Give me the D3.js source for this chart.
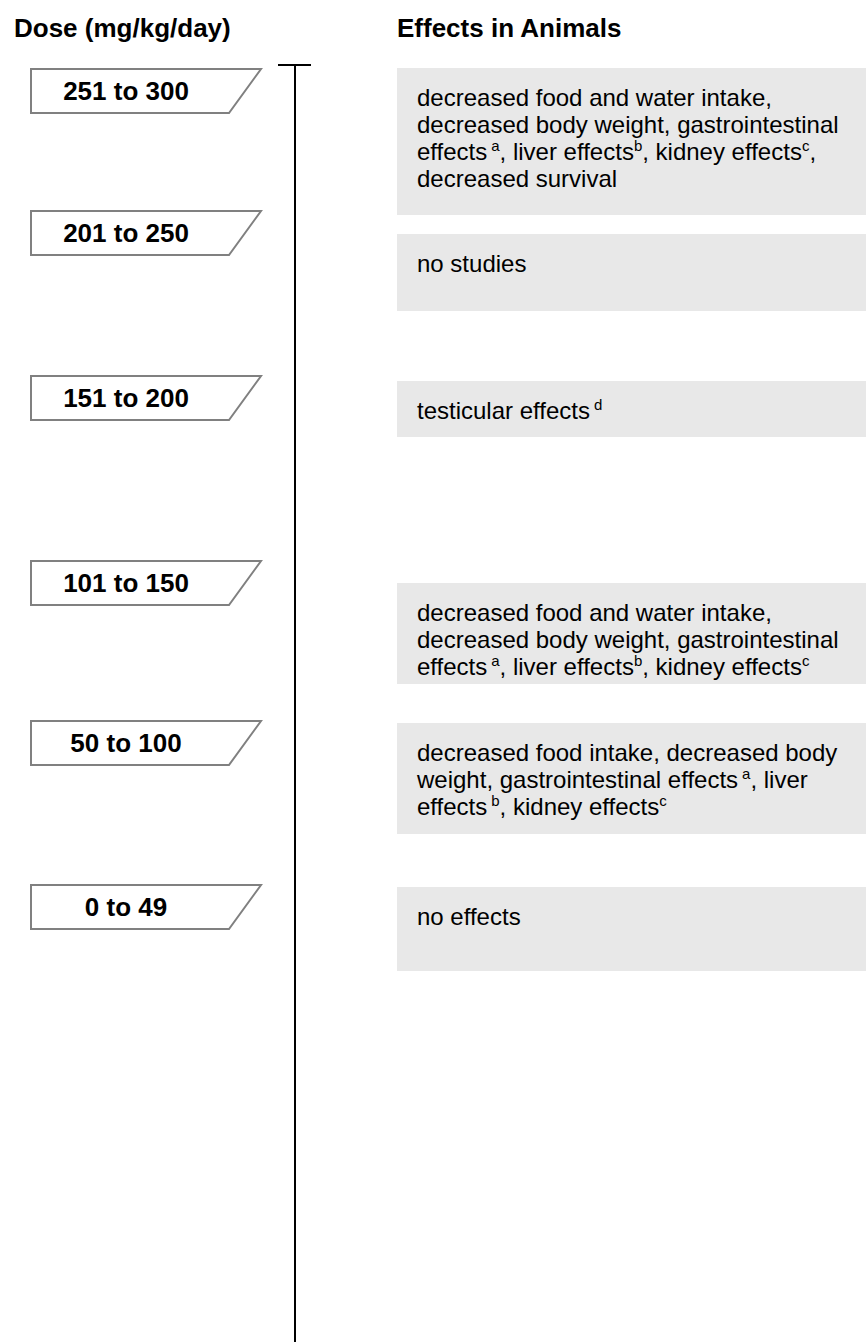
<!DOCTYPE html>
<html>
<head>
<meta charset="utf-8">
<script src="https://cdn.jsdelivr.net/npm/d3@7"></script>
<style>
  body { margin: 0; background: #fff; }
  svg text { font-family: "Liberation Sans", Arial, sans-serif; fill: #000; }
</style>
</head>
<body>
<div id="chart"></div>
<script>
// ---- data ----
const headers = ["Dose (mg/kg/day)", "Effects in Animals"];

const doseLabels = ["251 to 300", "201 to 250", "151 to 200", "101 to 150", "50 to 100", "0 to 49"];

// text in {} is a superscript footnote mark; a leading space in it means a small gap
const effectLines = [
  ["decreased food and water intake,", "decreased body weight, gastrointestinal", "effects{ a}, liver effects{b}, kidney effects{c},", "decreased survival"],
  ["no studies"],
  ["testicular effects{ d}"],
  ["decreased food and water intake,", "decreased body weight, gastrointestinal", "effects{ a}, liver effects{b}, kidney effects{c}"],
  ["decreased food intake, decreased body", "weight, gastrointestinal effects{ a}, liver", "effects{ b}, kidney effects{c}"],
  ["no effects"]
];

// ---- layout (page positions, not data) ----
const W = 866, H = 1342;
const labelTops = [69, 211, 376, 561, 721, 885];
const boxTops = [68, 234, 381, 583, 723, 887];
const boxHeights = [147, 77, 56, 101, 111, 84];

const svg = d3.select("#chart").append("svg")
  .attr("width", W)
  .attr("height", H);

const labelY = d3.scaleOrdinal().domain(doseLabels).range(labelTops);
const boxY = d3.scaleOrdinal().domain(doseLabels).range(boxTops);
const boxH = d3.scaleOrdinal().domain(doseLabels).range(boxHeights);

// column headers
svg.selectAll(".header")
  .data(headers)
  .enter()
  .append("text")
  .attr("class", "header")
  .attr("x", (d, i) => i === 0 ? 14 : 397)
  .attr("y", 37)
  .style("font-size", "26px")
  .style("font-weight", "bold")
  .text(d => d);

// vertical dose axis with a cap at the top
const axisX = 295, axisTop = 65;
svg.append("line")
  .attr("x1", axisX).attr("x2", axisX)
  .attr("y1", axisTop).attr("y2", H)
  .attr("stroke", "#000")
  .attr("stroke-width", 2);
svg.append("line")
  .attr("x1", 278).attr("x2", 311)
  .attr("y1", axisTop).attr("y2", axisTop)
  .attr("stroke", "#000")
  .attr("stroke-width", 2);

// dose label tags
const tagH = 44, tagL = 31, tagR = 261, slant = 32;
const tags = svg.selectAll(".tag")
  .data(doseLabels)
  .enter()
  .append("g")
  .attr("class", "tag")
  .attr("transform", d => `translate(0, ${labelY(d)})`);

tags.append("path")
  .attr("d", `M${tagL},0 L${tagR},0 L${tagR - slant},${tagH} L${tagL},${tagH} Z`)
  .attr("fill", "#fff")
  .attr("stroke", "#808080")
  .attr("stroke-width", 2);

tags.append("text")
  .attr("x", 126)
  .attr("y", 31)
  .attr("text-anchor", "middle")
  .style("font-size", "26px")
  .style("font-weight", "bold")
  .text(d => d);

// effects boxes
const boxX = 397, textX = 417, lineGap = 27, firstBase = 38, supRise = 9;
const rows = svg.selectAll(".effect")
  .data(doseLabels.map((d, i) => ({ dose: d, lines: effectLines[i] })))
  .enter()
  .append("g")
  .attr("class", "effect")
  .attr("transform", d => `translate(0, ${boxY(d.dose)})`);

rows.append("rect")
  .attr("x", boxX)
  .attr("y", 0)
  .attr("width", W - boxX)
  .attr("height", d => boxH(d.dose))
  .attr("fill", "#e8e8e8");

rows.each(function(d) {
  let g = d3.select(this);
  d.lines.forEach((line, li) => {
    let t = g.append("text")
      .attr("x", textX)
      .attr("y", firstBase + li * lineGap)
      .style("font-size", "24px");
    let raised = false;
    // split into normal and superscript parts
    line.split(/(\{[^}]*\})/).filter(s => s.length).forEach(part => {
      if (part[0] === "{") {
        let mark = part.slice(1, -1);
        t.append("tspan")
          .attr("dy", -supRise)
          .attr("dx", mark[0] === " " ? 4 : 0)
          .style("font-size", "15px")
          .text(mark.trim());
        raised = true;
      } else {
        t.append("tspan")
          .attr("dy", raised ? supRise : 0)
          .text(part);
        raised = false;
      }
    });
  });
});
</script>
</body>
</html>
